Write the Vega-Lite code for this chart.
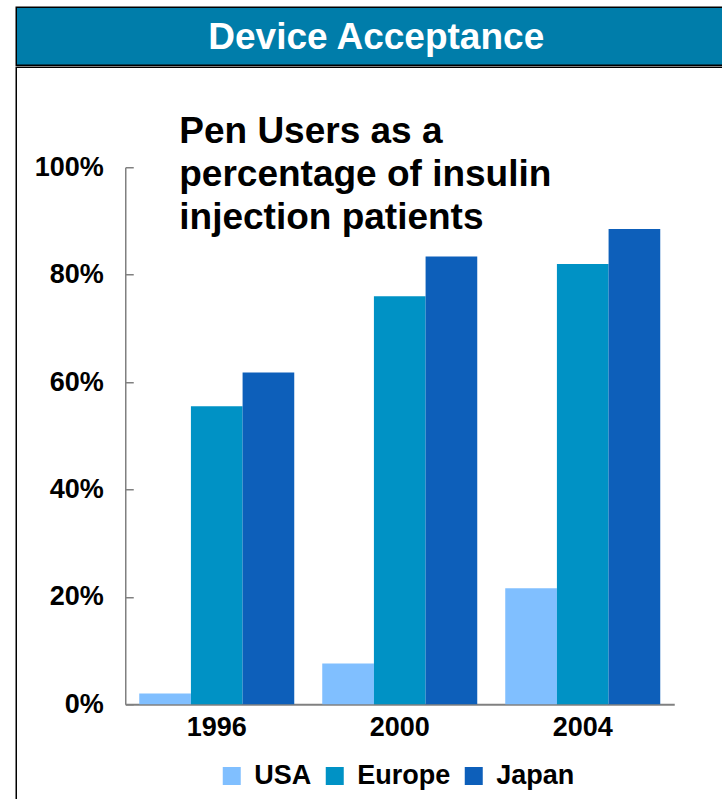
{
  "$schema": "https://vega.github.io/schema/vega-lite/v6.json",
  "padding": {"left": 15.25, "top": 6.25, "right": -14.75, "bottom": -7.25},
  "spacing": 0,
  "config": {
    "font": "Liberation Sans",
    "view": {"stroke": "black", "strokeWidth": 1.5}
  },
  "vconcat": [
    {
      "width": 720,
      "height": 58,
      "view": {"fill": "#007DAA", "stroke": "black", "strokeWidth": 1.5},
      "data": {"values": [{"label": "Device Acceptance"}]},
      "mark": {"type": "text", "color": "white", "fontSize": 37, "fontWeight": "bold", "font": "Liberation Sans", "baseline": "middle", "align": "center", "dy": 2},
      "encoding": {"text": {"field": "label", "type": "nominal"}}
    },
    {
      "width": 720,
      "height": 740,
      "view": {"fill": "white", "stroke": "black", "strokeWidth": 1.5},
      "title": {
        "text": ["Pen Users as a", "percentage of insulin", "injection patients"],
        "anchor": "start",
        "orient": "none",
        "baseline": "top",
        "offset": 0,
        "dx": 163,
        "dy": 47,
        "fontSize": 37,
        "fontWeight": "bold",
        "font": "Liberation Sans",
        "color": "black",
        "lineHeight": 43
      },
      "data": {
        "values": [
          {"year": "1996", "region": "USA", "share": 0.02},
          {"year": "1996", "region": "Europe", "share": 0.555},
          {"year": "1996", "region": "Japan", "share": 0.618},
          {"year": "2000", "region": "USA", "share": 0.076},
          {"year": "2000", "region": "Europe", "share": 0.76},
          {"year": "2000", "region": "Japan", "share": 0.834},
          {"year": "2004", "region": "USA", "share": 0.216},
          {"year": "2004", "region": "Europe", "share": 0.82},
          {"year": "2004", "region": "Japan", "share": 0.885}
        ]
      },
      "mark": {"type": "bar"},
      "encoding": {
        "x": {
          "field": "year",
          "type": "nominal",
          "scale": {"range": [109, 658], "paddingInner": 0.153, "paddingOuter": 0.0765},
          "axis": {
            "title": null,
            "labelAngle": 0,
            "ticks": false,
            "domainColor": "#808080",
            "domainWidth": 2,
            "labelFontSize": 27,
            "labelFontWeight": "bold",
            "labelColor": "black",
            "labelPadding": 10,
            "offset": -103
          }
        },
        "xOffset": {
          "field": "region",
          "type": "nominal",
          "sort": ["USA", "Europe", "Japan"],
          "scale": {"paddingInner": 0, "paddingOuter": 0}
        },
        "y": {
          "field": "share",
          "type": "quantitative",
          "scale": {"domain": [0, 1], "range": [637, 100], "nice": false},
          "axis": {
            "title": null,
            "values": [0, 0.2, 0.4, 0.6, 0.8, 1],
            "format": ".0%",
            "grid": false,
            "tickSize": -8,
            "tickColor": "#808080",
            "tickWidth": 1.5,
            "domainColor": "#808080",
            "domainWidth": 1.5,
            "labelFontSize": 27,
            "labelFontWeight": "bold",
            "labelColor": "black",
            "labelPadding": 30,
            "offset": -109
          }
        },
        "color": {
          "field": "region",
          "type": "nominal",
          "sort": ["USA", "Europe", "Japan"],
          "scale": {"domain": ["USA", "Europe", "Japan"], "range": ["#80BFFF", "#0092C5", "#0D5FBA"]},
          "legend": {
            "title": null,
            "orient": "none",
            "direction": "horizontal",
            "legendX": 202,
            "legendY": 755,
            "symbolType": "square",
            "symbolSize": 324,
            "symbolStrokeWidth": 0,
            "symbolOpacity": 1,
            "labelFontSize": 27,
            "labelFontWeight": "bold",
            "labelColor": "black",
            "labelOffset": 9,
            "columnPadding": 9,
            "padding": 0
          }
        }
      }
    }
  ]
}
